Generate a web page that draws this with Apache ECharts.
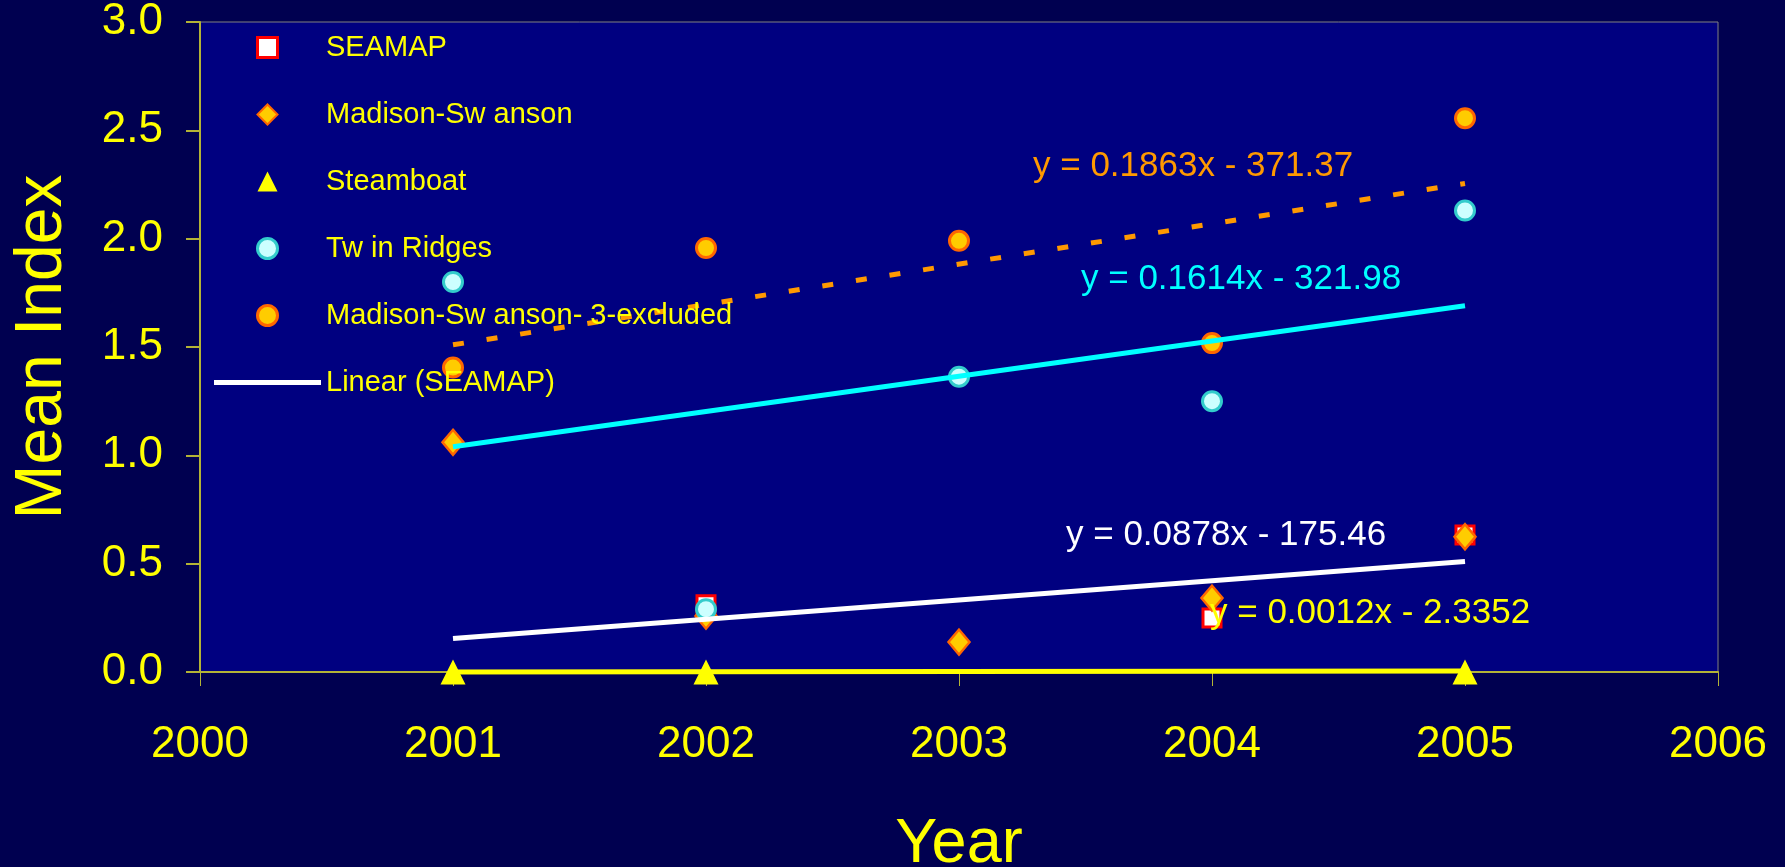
<!DOCTYPE html>
<html>
<head>
<meta charset="utf-8">
<title>Mean Index by Year</title>
<script src="https://cdn.jsdelivr.net/npm/echarts@6/dist/echarts.min.js"></script>
<style>
  html, body { margin: 0; padding: 0; background: #000050; }
  #chart { width: 1785px; height: 867px; }
</style>
</head>
<body>
<div id="chart"></div>
<script>
// 各系列数据 (年份, 指数)
var years = [2000, 2001, 2002, 2003, 2004, 2005, 2006];
var yTicks = [0, 0.5, 1.0, 1.5, 2.0, 2.5, 3.0];
var seamap = [[2002, 0.31], [2004, 0.249], [2005, 0.632]];
var madisonSwanson = [[2001, 1.06], [2002, 0.258], [2003, 0.138], [2004, 0.341], [2005, 0.624]];
var steamboat = [[2001, 0], [2002, 0], [2005, 0]];
var twinRidges = [[2001, 1.80], [2002, 0.29], [2003, 1.363], [2004, 1.25], [2005, 2.13]];
var msExcluded = [[2001, 1.405], [2002, 1.957], [2003, 1.99], [2004, 1.518], [2005, 2.556]];

// 趋势线端点
var seamapTrend = [[2001, 0.155], [2005, 0.51]];
var twinTrend = [[2001, 1.04], [2005, 1.69]];
var msExcludedTrend = [[2001, 1.51], [2005, 2.255]];
var steamboatTrend = [[2001, 0.0], [2005, 0.005]];

var names = ['SEAMAP', 'Madison-Sw anson', 'Steamboat', 'Tw in Ridges', 'Madison-Sw anson- 3-excluded', 'Linear (SEAMAP)'];
var equations = ['y = 0.1863x - 371.37', 'y = 0.1614x - 321.98', 'y = 0.0878x - 175.46', 'y = 0.0012x - 2.3352'];

var font = '"Liberation Sans", Arial, sans-serif';
var axisColor = '#b3b336';

var chart = echarts.init(document.getElementById('chart'));

var option = {
  backgroundColor: '#000050',
  animation: false,
  grid: {
    show: true,
    left: 200,
    top: 22,
    right: 67,
    bottom: 195,
    containLabel: false,
    outerBoundsMode: 'none',
    backgroundColor: '#000080',
    borderColor: '#808080',
    borderWidth: 1
  },
  legend: {
    orient: 'vertical',
    left: 214,
    top: 14,
    padding: 0,
    itemGap: 0,
    itemWidth: 107,
    itemHeight: 20,
    textStyle: { color: '#ffff00', fontSize: 29, fontFamily: font, lineHeight: 67 },
    data: [
      { name: names[0], icon: 'path://M0,0L10,0L10,10L0,10Z', itemStyle: { color: '#ffffff', borderColor: '#ff0000', borderWidth: 3 } },
      { name: names[1], icon: 'path://M5,0L10,5L5,10L0,5Z', itemStyle: { color: '#ffcc00', borderColor: '#ff6600', borderWidth: 2 } },
      { name: names[2], icon: 'path://M5,0L10,10L0,10Z', itemStyle: { color: '#ffff00', borderWidth: 0 } },
      { name: names[3], icon: 'path://M0,5A5,5,0,1,1,10,5A5,5,0,1,1,0,5Z', itemStyle: { color: '#ccffff', borderColor: '#33cccc', borderWidth: 3 } },
      { name: names[4], icon: 'path://M0,5A5,5,0,1,1,10,5A5,5,0,1,1,0,5Z', itemStyle: { color: '#ffcc00', borderColor: '#ff6600', borderWidth: 3 } },
      { name: names[5], icon: 'path://M0,0L107,0L107,5L0,5Z', itemStyle: { color: '#ffffff', borderWidth: 0 } }
    ]
  },
  xAxis: {
    type: 'value',
    min: years[0],
    max: years[years.length - 1],
    interval: 1,
    name: 'Year',
    nameLocation: 'middle',
    nameGap: 141,
    nameTextStyle: { color: '#ffff00', fontSize: 63, fontFamily: font },
    axisLine: { show: true, lineStyle: { color: axisColor, width: 2 } },
    axisTick: { show: true, length: 14, lineStyle: { color: axisColor, width: 1 } },
    axisLabel: {
      color: '#ffff00', fontSize: 44, fontFamily: font, margin: 51,
      formatter: function (v) { return String(v); }
    },
    splitLine: { show: false }
  },
  yAxis: {
    type: 'value',
    min: yTicks[0],
    max: yTicks[yTicks.length - 1],
    interval: 0.5,
    name: 'Mean Index',
    nameLocation: 'middle',
    nameGap: 124,
    nameTextStyle: { color: '#ffff00', fontSize: 66, fontFamily: font },
    axisLine: { show: true, lineStyle: { color: axisColor, width: 2 } },
    axisTick: { show: true, length: 14, lineStyle: { color: axisColor, width: 2 } },
    axisLabel: {
      color: '#ffff00', fontSize: 44, fontFamily: font, margin: 37,
      formatter: function (v) { return v.toFixed(1); }
    },
    splitLine: { show: false }
  },
  series: [
    {
      name: names[0], type: 'scatter', data: seamap, clip: false,
      symbol: 'rect', symbolSize: 18,
      itemStyle: { color: '#ffffff', borderColor: '#ff0000', borderWidth: 3, opacity: 1 }
    },
    {
      name: names[1], type: 'scatter', data: madisonSwanson, clip: false,
      symbol: 'diamond', symbolSize: [21, 25],
      itemStyle: { color: '#ffcc00', borderColor: '#ff6600', borderWidth: 2.5, opacity: 1 }
    },
    {
      name: names[2], type: 'scatter', data: steamboat, clip: false,
      symbol: 'triangle', symbolSize: [25, 25],
      itemStyle: { color: '#ffff00', opacity: 1 }
    },
    {
      name: names[3], type: 'scatter', data: twinRidges, clip: false,
      symbol: 'circle', symbolSize: 19,
      itemStyle: { color: '#ccffff', borderColor: '#33cccc', borderWidth: 3, opacity: 1 }
    },
    {
      name: names[4], type: 'scatter', data: msExcluded, clip: false,
      symbol: 'circle', symbolSize: 19,
      itemStyle: { color: '#ffcc00', borderColor: '#ff6600', borderWidth: 3, opacity: 1 }
    },
    {
      name: names[5], type: 'line', data: seamapTrend, clip: false,
      showSymbol: false, lineStyle: { color: '#ffffff', width: 5 }, itemStyle: { color: '#ffffff' }
    },
    {
      name: 'twinTrend', type: 'line', data: twinTrend, clip: false,
      showSymbol: false, lineStyle: { color: '#00ffff', width: 5 }
    },
    {
      name: 'msExcludedTrend', type: 'line', data: msExcludedTrend, clip: false,
      showSymbol: false, lineStyle: { color: '#ff9900', width: 5, type: [11, 23], cap: 'butt' }
    },
    {
      name: 'steamboatTrend', type: 'line', data: steamboatTrend, clip: false,
      showSymbol: false, lineStyle: { color: '#ffff00', width: 5 }
    }
  ],
  // 趋势线公式
  graphic: [
    { type: 'text', left: 1033, top: 149, z: 100, style: { text: equations[0], fill: '#ff9900', font: '35px ' + font } },
    { type: 'text', left: 1081, top: 262, z: 100, style: { text: equations[1], fill: '#00ffff', font: '35px ' + font } },
    { type: 'text', left: 1066, top: 518, z: 100, style: { text: equations[2], fill: '#ffffff', font: '35px ' + font } },
    { type: 'text', left: 1210, top: 596, z: 100, style: { text: equations[3], fill: '#ffff00', font: '35px ' + font } }
  ]
};

chart.setOption(option);
</script>
</body>
</html>
